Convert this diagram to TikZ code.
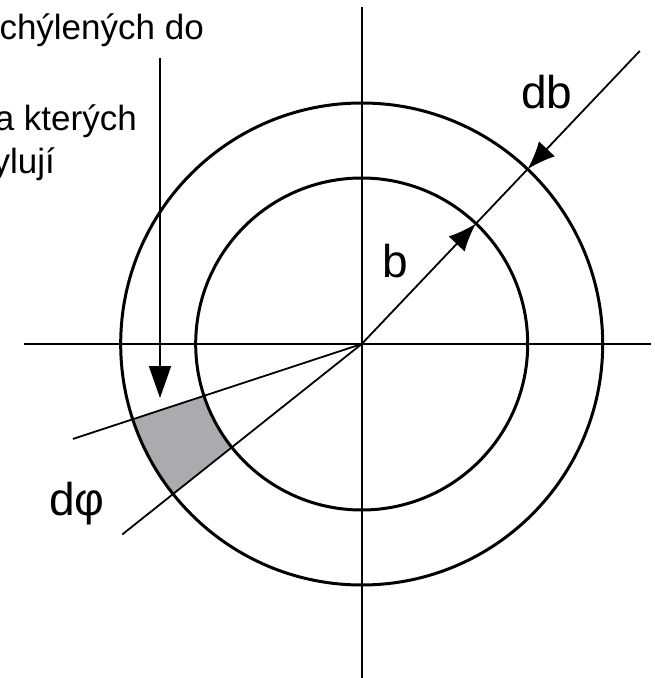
\documentclass[tikz,border=0pt]{standalone}
\usepackage{fontspec}
\setmainfont{Liberation Sans}
\usetikzlibrary{arrows.meta}
\definecolor{plocha}{RGB}{170,170,175}

\begin{document}
\begin{tikzpicture}[x=1pt, y=1pt,
    kruh/.style={line width=3pt},
    osa/.style={line width=1.8pt},
    sipka/.style={line width=1.8pt, -{Latex[length=28pt, width=22pt]}},
    popis/.style={inner sep=0pt, anchor=base, font=\fontsize{46}{50}\selectfont},
    radek/.style={inner sep=0pt, anchor=base east, font=\fontsize{35}{42}\selectfont}]
  \useasboundingbox (-361.7,-334) rectangle (293.3,344);
  \clip (-361.7,-334) rectangle (293.3,344);

  % střed a body na paprscích
  \coordinate (O) at (0,0);
  \coordinate (bi) at (46.5:166);
  \coordinate (bo) at (46.5:241);
  \coordinate (bk) at (46.5:404);
  \coordinate (p1) at (198.2:304);
  \coordinate (p2) at (218.5:306);

  % vybarvená plocha
  \fill[plocha] (198.2:166) arc[start angle=198.2, end angle=218.5, radius=166]
    -- (218.5:241) arc[start angle=218.5, end angle=198.2, radius=241] -- cycle;

  % osy
  \draw[osa] (-337.7,0) -- (289.3,0);
  \draw[osa] (0,337) -- (0,-336);

  % kružnice
  \draw[kruh] (O) circle (166);
  \draw[kruh] (O) circle (241);

  % paprsky dole vlevo
  \draw[osa] (O) -- (p1);
  \draw[osa] (O) -- (p2);

  % paprsek s šipkami b a db
  \draw[sipka] (O) -- (bi);
  \draw[osa] (bi) -- (bo);
  \draw[sipka] (bk) -- (bo);

  % popisky
  \node[popis] (b) at (33.3,67) {b};
  \node[popis] (db) at (185.3,236) {db};
  \node[popis] (dphi) at (-284.7,-171) {dφ};

  % text a šipka
  \node[radek] (t1) at (-157.7,304) {chýlených do};
  \node[radek] (t2) at (-224.7,213) {a kterých};
  \node[radek] (t3) at (-306.7,171) {ylují};
  \coordinate (s1) at (-201.7,286);
  \coordinate (s2) at (-201.7,-54);
  \draw[osa, -{Triangle[length=32pt, width=22pt]}] (s1) -- (s2);
\end{tikzpicture}
\end{document}
